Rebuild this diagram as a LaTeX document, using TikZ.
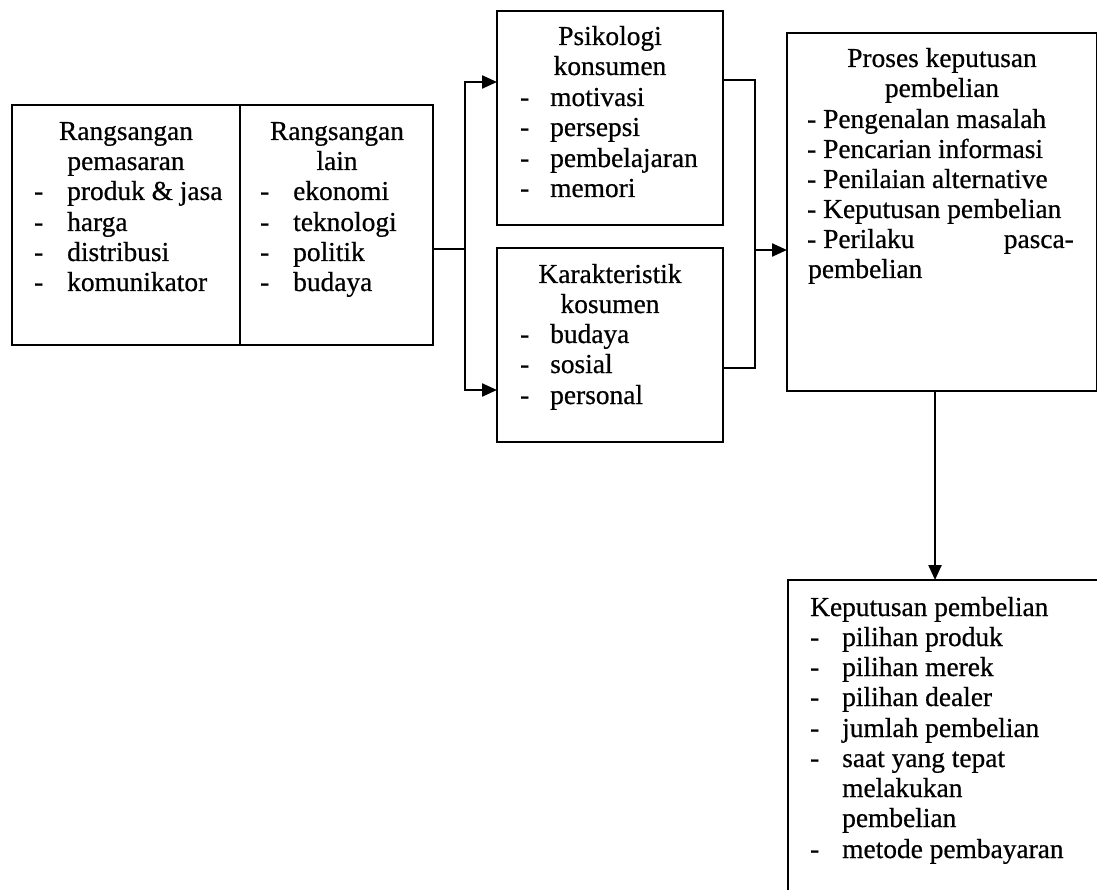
\documentclass[tikz,border=0pt]{standalone}
\usepackage{fontspec}
\setmainfont[FakeBold=0.6]{Liberation Serif}
\usetikzlibrary{arrows.meta}
\tikzset{
  box/.style={draw, line width=2.5pt, anchor=north west, inner sep=0pt, outer sep=0pt},
  txt/.style={inner sep=0pt, anchor=base west, font=\fontsize{27.4}{30}\selectfont},
  txtc/.style={txt, anchor=base},
  txtr/.style={txt, anchor=base east},
  conn/.style={line width=2.3pt},
  arr/.style={conn, -{Triangle[length=15pt,width=13pt]}}
}
\newcommand\Lw[4]{\node[txt] (#1) at (#2,#3) {#4};}
\newcommand\Lc[4]{\node[txtc] (#1) at (#2,#3) {#4};}
\newcommand\Lr[4]{\node[txtr] (#1) at (#2,#3) {#4};}
\begin{document}
\begin{tikzpicture}[x=1pt,y=-1pt]
\useasboundingbox (0,0) rectangle (1097,890);
\fill[white] (0,0) rectangle (1097,890);
\clip (0,0) rectangle (1097,890);
% boxes
\node[box, minimum width=228pt, minimum height=240pt] (rp) at (12,105) {};
\node[box, minimum width=193pt, minimum height=240pt] (rl) at (240,105) {};
\node[box, minimum width=226pt, minimum height=214pt] (ps) at (497,11) {};
\node[box, minimum width=226pt, minimum height=194pt] (ka) at (497,248) {};
\node[box, minimum width=310pt, minimum height=358pt] (pr) at (787,33) {};
\node[box, minimum width=340pt, minimum height=340pt] (kp) at (788,580) {};
% Rangsangan pemasaran
\Lc{rp1}{126}{140}{Rangsangan}
\Lc{rp2}{126}{170}{pemasaran}
\Lw{rpd1}{34}{200}{-}\Lw{rpi1}{67}{200}{produk \& jasa}
\Lw{rpd2}{34}{231}{-}\Lw{rpi2}{67}{231}{harga}
\Lw{rpd3}{34}{261}{-}\Lw{rpi3}{67}{261}{distribusi}
\Lw{rpd4}{34}{291}{-}\Lw{rpi4}{67}{291}{komunikator}
% Rangsangan lain
\Lc{rl1}{337}{140}{Rangsangan}
\Lc{rl2}{337}{170}{lain}
\Lw{rld1}{260}{200}{-}\Lw{rli1}{293}{200}{ekonomi}
\Lw{rld2}{260}{231}{-}\Lw{rli2}{293}{231}{teknologi}
\Lw{rld3}{260}{261}{-}\Lw{rli3}{293}{261}{politik}
\Lw{rld4}{260}{291}{-}\Lw{rli4}{293}{291}{budaya}
% Psikologi konsumen
\Lc{ps1}{610}{45}{Psikologi}
\Lc{ps2}{610}{75}{konsumen}
\Lw{psd1}{520}{106}{-}\Lw{psi1}{550}{106}{motivasi}
\Lw{psd2}{520}{136}{-}\Lw{psi2}{550}{136}{persepsi}
\Lw{psd3}{520}{167}{-}\Lw{psi3}{550}{167}{pembelajaran}
\Lw{psd4}{520}{197}{-}\Lw{psi4}{550}{197}{memori}
% Karakteristik kosumen
\Lc{ka1}{610}{283}{Karakteristik}
\Lc{ka2}{610}{313}{kosumen}
\Lw{kad1}{520}{343}{-}\Lw{kai1}{550}{343}{budaya}
\Lw{kad2}{520}{373}{-}\Lw{kai2}{550}{373}{sosial}
\Lw{kad3}{520}{404}{-}\Lw{kai3}{550}{404}{personal}
% Proses keputusan pembelian
\Lc{pr1}{942}{67}{Proses keputusan}
\Lc{pr2}{942}{97}{pembelian}
\Lw{pri1}{807}{128}{- Pengenalan masalah}
\Lw{pri2}{807}{158}{- Pencarian informasi}
\Lw{pri3}{807}{188}{- Penilaian alternative}
\Lw{pri4}{807}{218}{- Keputusan pembelian}
\Lw{pri5}{807}{248}{- Perilaku}
\Lr{pri5b}{1074}{248}{pasca-}
\Lw{pri6}{808}{278}{pembelian}
% Keputusan pembelian
\Lw{kp1}{810}{616}{Keputusan pembelian}
\Lw{kpd1}{810}{646}{-}\Lw{kpi1}{842}{646}{pilihan produk}
\Lw{kpd2}{810}{676}{-}\Lw{kpi2}{842}{676}{pilihan merek}
\Lw{kpd3}{810}{706}{-}\Lw{kpi3}{842}{706}{pilihan dealer}
\Lw{kpd4}{810}{737}{-}\Lw{kpi4}{842}{737}{jumlah pembelian}
\Lw{kpd5}{810}{767}{-}\Lw{kpi5}{842}{767}{saat yang tepat}
\Lw{kpi6}{842}{797}{melakukan}
\Lw{kpi7}{842}{827}{pembelian}
\Lw{kpd8}{810}{858}{-}\Lw{kpi8}{842}{858}{metode pembayaran}
% connectors
\coordinate (j1) at (465,249);
\coordinate (ya) at (0,82);
\coordinate (yb) at (0,390);
\coordinate (yc) at (0,80);
\coordinate (yd) at (0,368);
\coordinate (j2) at (755,250);
\coordinate (xd) at (935,0);
\draw[conn] (rl.east |- j1) -- (j1);
\draw[arr] (j1) |- (ps.west |- ya);
\draw[arr] (j1) |- (ka.west |- yb);
\draw[conn] (ps.east |- yc) -| (j2);
\draw[conn] (ka.east |- yd) -| (j2);
\draw[arr] (j2) -- (pr.west |- j2);
\draw[arr] (pr.south -| xd) -- (kp.north -| xd);
\end{tikzpicture}
\end{document}
